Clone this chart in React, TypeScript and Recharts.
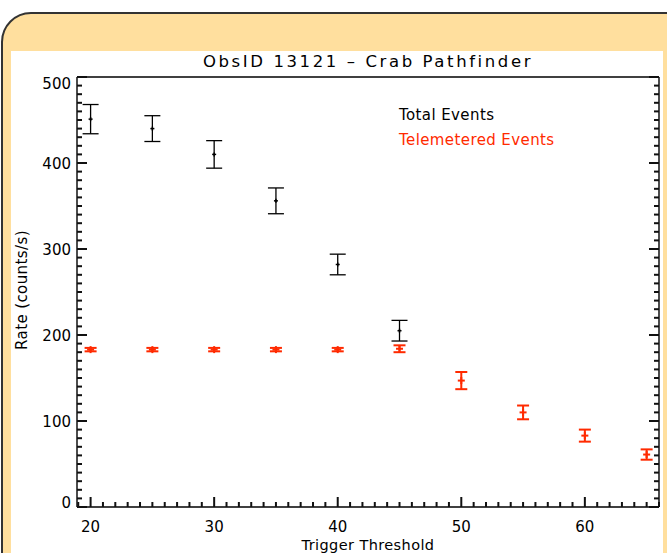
import { ErrorBar, Scatter, ScatterChart, XAxis, YAxis } from 'recharts';

// trigger threshold settings and measured count rates
const thresholds = [20, 25, 30, 35, 40, 45, 50, 55, 60, 65];
const totalRate = [451, 440, 410, 356, 282, 205];
const totalErr = [17, 15, 16, 15, 12, 12];
const telemRate = [183, 183, 183, 183, 183, 184, 147, 110, 83, 61];
const telemErr = [2, 2, 2, 2, 2, 4, 10, 8, 7, 6];

const xTicks = Array.from({ length: 48 }, (_, i) => 19 + i);
const yTicks = Array.from({ length: 51 }, (_, i) => i * 10);
const xLabels = [20, 30, 40, 50, 60];
const yLabels = [0, 100, 200, 300, 400, 500];

const FONT = '"DejaVu Sans", sans-serif';
const RED = '#ff2a00';
const W = 667;
const H = 553;
// each axis takes 1px, so the box runs from x 77..659, y 77..507
const M = { top: 76, left: 76, right: 7, bottom: 45 };
const TW = 2; // tick thickness

const totalData = totalRate.map((y, i) => ({ x: thresholds[i], y, err: totalErr[i] }));
const telemData = telemRate.map((y, i) => ({ x: thresholds[i], y, err: telemErr[i] }));

// tick marks as thin filled rects pointing into the box
const vTick = (x: number, y0: number, len: number) => (
  <rect x={x - TW / 2} y={Math.min(y0, y0 + len)} width={TW} height={Math.abs(len)} fill="#111" />
);
const hTick = (x0: number, y: number, len: number) => (
  <rect x={Math.min(x0, x0 + len)} y={y - TW / 2} width={Math.abs(len)} height={TW} fill="#111" />
);

function BottomTick({ x, y, payload }: any) {
  const v = payload.value;
  return (
    <g>
      {vTick(x, y, v % 10 === 0 ? -10 : -5)}
      {xLabels.includes(v) && (
        <text x={x} y={y + 25} textAnchor="middle" fontSize={15} fontFamily={FONT} fill="#000">
          {v}
        </text>
      )}
    </g>
  );
}

function TopTick({ x, y, payload }: any) {
  return <g>{vTick(x, y, payload.value % 10 === 0 ? 10 : 5)}</g>;
}

function LeftTick({ x, y, payload }: any) {
  const v = payload.value;
  // keep end labels inside the axis span
  const base = v === 500 ? y + 12 : v === 0 ? y + 1 : y + 5.5;
  return (
    <g>
      {hTick(x, y, v % 100 === 0 ? 10 : 5)}
      {yLabels.includes(v) && (
        <text x={x - 6} y={base} textAnchor="end" fontSize={15} fontFamily={FONT} fill="#000">
          {v}
        </text>
      )}
    </g>
  );
}

function RightTick({ x, y, payload }: any) {
  return <g>{hTick(x, y, payload.value % 100 === 0 ? -10 : -5)}</g>;
}

function Plus({ cx, cy, size, color, width }: any) {
  return (
    <g>
      <line x1={cx - size} x2={cx + size} y1={cy} y2={cy} stroke={color} strokeWidth={width} />
      <line x1={cx} x2={cx} y1={cy - size} y2={cy + size} stroke={color} strokeWidth={width} />
    </g>
  );
}

const axisBase = {
  allowDataOverflow: true,
  interval: 0 as const,
  tickSize: 0,
  tickMargin: 0,
  tickLine: false,
  axisLine: { stroke: '#000', strokeWidth: 1.4 },
};

export default function App() {
  return (
    <div style={{ position: 'absolute', left: 0, top: 0, width: W, height: H, overflow: 'hidden', background: '#fff' }}>
      <div
        style={{
          position: 'absolute',
          left: 1,
          top: 12,
          width: 700,
          height: 620,
          background: '#ffdf9e',
          border: '2.5px solid #333',
          borderRadius: 30,
          boxSizing: 'border-box',
        }}
      />
      <div style={{ position: 'absolute', left: 11, top: 51, width: 652, height: 520, background: '#fff' }} />
      <div style={{ position: 'absolute', left: 0, top: 0 }}>
        <ScatterChart width={W} height={H} margin={M}>
          <XAxis {...axisBase} xAxisId="b" type="number" dataKey="x" domain={[18.9, 66]} ticks={xTicks} height={1} tick={BottomTick} />
          <XAxis {...axisBase} xAxisId="t" orientation="top" type="number" domain={[18.9, 66]} ticks={xTicks} height={1} tick={TopTick} />
          <YAxis {...axisBase} yAxisId="l" type="number" dataKey="y" domain={[0, 500]} ticks={yTicks} width={1} tick={LeftTick} />
          <YAxis {...axisBase} yAxisId="r" orientation="right" type="number" domain={[0, 500]} ticks={yTicks} width={1} tick={RightTick} />
          <Scatter
            xAxisId="b"
            yAxisId="l"
            data={totalData}
            isAnimationActive={false}
            shape={(p: any) => <Plus cx={p.cx} cy={p.cy} size={2} color="#000" width={1.5} />}
          >
            <ErrorBar dataKey="err" direction="y" width={8} stroke="#000" strokeWidth={1.3} isAnimationActive={false} />
          </Scatter>
          <Scatter
            xAxisId="b"
            yAxisId="l"
            data={telemData}
            isAnimationActive={false}
            shape={(p: any) => <Plus cx={p.cx} cy={p.cy} size={3.5} color={RED} width={2} />}
          >
            <ErrorBar dataKey="err" direction="y" width={6} stroke={RED} strokeWidth={2} isAnimationActive={false} />
          </Scatter>
        </ScatterChart>
      </div>
      <svg width={W} height={H} style={{ position: 'absolute', left: 0, top: 0, pointerEvents: 'none' }}>
        <text x={368} y={67} textAnchor="middle" fontSize={16.5} letterSpacing={2.6} fontFamily={FONT} fill="#000">
          ObsID 13121 – Crab Pathfinder
        </text>
        <text x={399} y={120} fontSize={15} letterSpacing={0.4} fontFamily={FONT} fill="#000">
          Total Events
        </text>
        <text x={399} y={145} fontSize={15} letterSpacing={0.4} fontFamily={FONT} fill={RED}>
          Telemetered Events
        </text>
        <text x={368} y={550} textAnchor="middle" fontSize={14.5} letterSpacing={0.4} fontFamily={FONT} fill="#000">
          Trigger Threshold
        </text>
        <text
          x={0}
          y={0}
          transform="translate(27 290) rotate(-90)"
          textAnchor="middle"
          fontSize={15}
          letterSpacing={0.4}
          fontFamily={FONT}
          fill="#000"
        >
          Rate (counts/s)
        </text>
      </svg>
    </div>
  );
}
